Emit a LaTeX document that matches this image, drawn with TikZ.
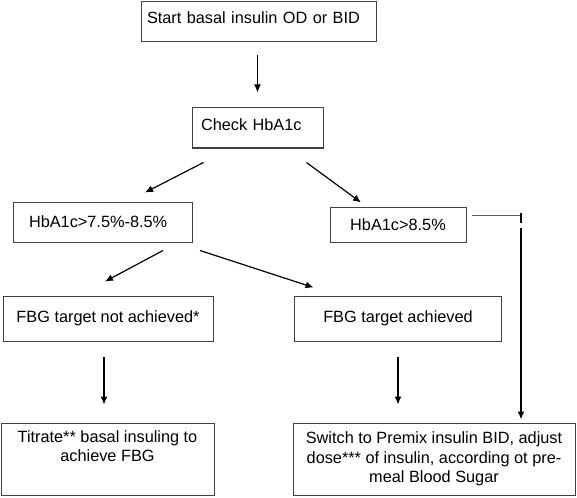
\documentclass[tikz,border=0pt]{standalone}
\usepackage{fontspec}
\setmainfont{Liberation Sans}
\usetikzlibrary{arrows.meta}

\begin{document}
\begin{tikzpicture}[x=1pt, y=-1pt,
        box/.style = {draw=black!75, line width=1pt, rectangle, inner ysep=2pt,
                      font=\fontsize{16.3}{19.5}\selectfont, align=center},
        arr/.style = {-{Latex[length=8pt,width=7pt]}, line width=1.2pt},
        link/.style = {draw=black!65, line width=1pt}]
            \useasboundingbox (0,0) rectangle (577,497);

            \node [box, inner xsep=6pt, text width=223pt, align=left, minimum height=40pt, text depth=8pt] (b1) at (258.5,22) {Start basal insulin OD or BID};
            \node [box, inner xsep=9pt, text width=113pt, align=left, minimum height=40pt, text depth=6pt] (b2) at (257.5,128) {Check HbA1c};
            \node [box, inner xsep=16pt, text width=147pt, align=left, minimum height=40pt] (b3) at (102.5,222) {HbA1c>7.5\%-8.5\%};
            \node [box, minimum width=136pt, minimum height=35pt] (b4) at (398,224.5) {HbA1c>8.5\%};
            \node [box, minimum width=210pt, minimum height=45pt] (b5) at (108,318.5) {FBG target not achieved*};
            \node [box, minimum width=207pt, minimum height=45pt] (b6) at (398,318.5) {FBG target achieved};
            \node [box, minimum width=213pt, minimum height=72pt] (b7) at (107.5,459) {Titrate** basal insuling to\\achieve FBG\\\strut};
            \node [box, minimum width=282pt, minimum height=72pt] (b8) at (434,459) {Switch to Premix insulin BID, adjust\\dose*** of insulin, according ot pre-\\meal Blood Sugar};

            \coordinate (k1) at (521,215);
            \coordinate (k2) at (521,228);

            \draw [arr, shorten <=13pt, shorten >=15pt] (b2.north |- b1.south) -- (b2.north);
            \draw [arr] ([xshift=12pt,yshift=-14pt]b2.south west) -- ([xshift=42.5pt,yshift=9pt]b3.north);
            \draw [arr] ([xshift=-17pt,yshift=-14pt]b2.south east) -- ([xshift=-37pt,yshift=4pt]b4.north);
            \draw [arr] ([xshift=60.5pt,yshift=-8pt]b3.south) -- ([xshift=-3pt,yshift=14pt]b5.north);
            \draw [arr] ([xshift=97.5pt,yshift=-8pt]b3.south) -- ([xshift=-84.5pt,yshift=8pt]b6.north);
            \draw [arr, shorten <=15pt, shorten >=18pt] ([xshift=-4pt]b5.south) -- ([xshift=-4pt]b5.south |- b7.north);
            \draw [arr, shorten <=15pt, shorten >=18pt] (b6.south) -- (b6.south |- b8.north);

            \draw [link] ([xshift=5pt,yshift=9.5pt]b4.east) -- (k1);
            \draw [line width=2pt] ([yshift=2pt]k1) -- ([yshift=-8pt]k1);
            \draw [arr, line width=1.6pt, shorten >=3pt] (k2) -- (b8.north -| k2);
    \end{tikzpicture}
\end{document}
